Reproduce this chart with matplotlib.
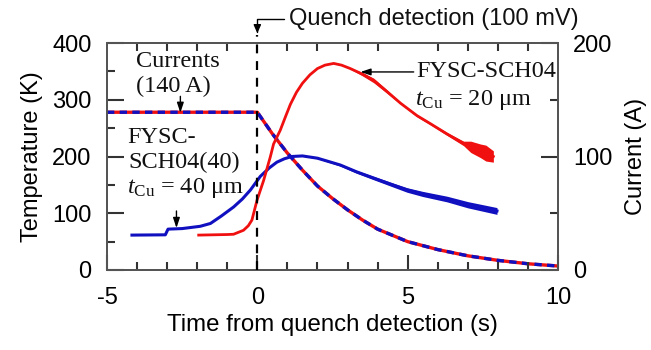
import matplotlib
matplotlib.use("Agg")
import matplotlib.pyplot as plt
import numpy as np

# ---------------- data ----------------
# Temperature, FYSC-SCH04(40), t_Cu = 40 um (blue)
blue_t = [-4.17, -3.06, -2.97, -2.5, -1.9, -1.56, -1.2, -0.79, -0.5, -0.23, 0.1, 0.4, 0.65,
          0.9, 1.15, 1.5, 2.0, 2.76, 3.3, 3.87, 4.5, 4.98, 5.5, 6.31, 7.0, 7.97]
blue_T = [61.5, 62, 72, 73, 77, 82, 95, 111, 125, 141, 165, 180, 190,
          196, 200, 201, 197, 185, 173, 162, 150, 141, 134, 125, 115, 104]
# noise half-width of the blue trace (K)
blue_noise = [0, 0, 0, 0, 0, 0, 0, 0, 0, 0, 0, 0, 0,
              0, 0, 0.5, 1, 2, 2.5, 3, 3.5, 4, 4.5, 5, 5.5, 6]

# Temperature, FYSC-SCH04, t_Cu = 20 um (red)
red_t = [-1.95, -1.0, -0.79, -0.46, -0.3, -0.18, -0.01, 0.21, 0.43, 0.54, 0.76, 0.95,
         1.1, 1.3, 1.5, 1.75, 2.0, 2.25, 2.54, 2.8, 3.09, 3.5, 3.87, 4.3, 4.76, 5.31,
         5.75, 6.3, 6.86, 7.1, 7.42, 7.6, 7.85]
red_T = [61.5, 62.5, 63, 70, 78, 88, 123, 158, 199, 222, 246, 272,
         292, 313, 329, 344, 355, 361, 364, 361, 355, 345, 334, 315, 294, 272,
         258, 240, 223, 217, 210, 206, 200]
red_noise = [0, 0, 0, 0, 0, 0, 0, 0, 0, 0, 0, 0,
             0, 0, 0, 0, 0, 0, 0, 0, 1, 3, 4, 3, 1.5, 2,
             2, 2.5, 4, 10, 12, 14, 10]

# Current (A), both samples (identical)
cur_t = [-5, 0, 0.5, 1.0, 1.5, 2.0, 2.5, 3.0, 3.5, 4.0, 5.0, 6.0, 7.0, 8.0, 9.0, 10.0]
cur_I = [139, 139, 120, 103, 88, 74, 63, 53, 44, 36, 25, 18, 12.5, 8.5, 5.5, 3.5]

xticks = [-5, 0, 5, 10]
yticks_T = [0, 100, 200, 300, 400]
yticks_I = [0, 100, 200]

# ---------------- style ----------------
RED = "#f01010"
BLUE = "#1010c0"
SPINE = "#555555"
TICK = "#333333"
SANS = "Liberation Sans"
SERIF = "Liberation Serif"
plt.rcParams["font.family"] = [SANS, "DejaVu Sans"]
plt.rcParams["axes.unicode_minus"] = False
plt.rcParams["mathtext.fontset"] = "custom"
plt.rcParams["mathtext.rm"] = SERIF
plt.rcParams["mathtext.it"] = SERIF + ":italic"

fig = plt.figure(figsize=(6.51, 3.5), dpi=100)
ax = fig.add_axes([107 / 651, 80 / 350, 451 / 651, 227 / 350])
ax2 = ax.twinx()
ax.set_zorder(1)
ax.patch.set_visible(False)

# temperature traces with noise bands
bt = np.array(blue_t); bT = np.array(blue_T); bn = np.array(blue_noise)
rt = np.array(red_t); rT = np.array(red_T); rn = np.array(red_noise)
ax.fill_between(bt, bT - bn, bT + bn, color=BLUE, lw=0, zorder=2)
ax.plot(bt, bT, color=BLUE, lw=2.2, zorder=3, solid_joinstyle="round")
ax.fill_between(rt, rT - rn, rT + rn, color=RED, lw=0, zorder=2)
ax.plot(rt, rT, color=RED, lw=2.0, zorder=3, solid_joinstyle="round")

# current traces (red underneath, blue dashed on top)
ax2.plot(cur_t, cur_I, color=RED, lw=2.4, zorder=3)
ax2.plot(cur_t, cur_I, color=BLUE, lw=2.4, dashes=(2.2, 1.6), zorder=4)

# quench detection line
ax.plot([0, 0], [0, 414], color="black", lw=1.6, dashes=(4, 3.5), clip_on=False, zorder=5)
ax.annotate("", xy=(0, 417), xytext=(0.9, 442), xycoords="data", textcoords="data",
            annotation_clip=False,
            arrowprops=dict(arrowstyle="-|>,head_length=0.5,head_width=0.22", color="black", lw=1.0,
                            shrinkA=0, shrinkB=0,
                            connectionstyle="angle,angleA=0,angleB=90,rad=0"))
ax.text(1.05, 442, "Quench detection (100 mV)", fontsize=17, va="center", ha="left",
        clip_on=False, color="#111111")

# axes limits/ticks
ax.set_xlim(-5, 10)
ax.set_ylim(0, 400)
ax2.set_ylim(0, 200)
ax.set_xticks(xticks)
ax.set_xticks(np.arange(-5, 11, 1), minor=True)
ax.set_yticks(yticks_T)
ax.set_yticks(np.arange(0, 401, 50), minor=True)
ax2.set_yticks(yticks_I)
ax2.set_yticks(np.arange(0, 201, 50), minor=True)

for a in (ax, ax2):
    for s in a.spines.values():
        s.set_color(SPINE)
        s.set_linewidth(1.4)
ax.xaxis.set_tick_params(which="major", direction="in", length=11, width=1.5, color=TICK,
                         labelsize=17, pad=12, bottom=True, top=False)
ax.xaxis.set_tick_params(which="minor", direction="in", length=5.5, width=1.5, color=TICK,
                         bottom=True, top=True)
ax.yaxis.set_tick_params(which="major", direction="in", length=12, width=1.5, color=TICK,
                         labelsize=17, pad=11, left=True, right=False)
ax.yaxis.set_tick_params(which="minor", direction="in", length=6, width=1.5, color=TICK,
                         left=True, right=False)
ax2.yaxis.set_tick_params(which="major", direction="in", length=12, width=1.5, color=TICK,
                          labelsize=17, pad=11)
ax2.yaxis.set_tick_params(which="minor", direction="in", length=6, width=1.5, color=TICK)

ax.set_xlabel("Time from quench detection (s)", fontsize=17.3, labelpad=4)
ax.set_ylabel("Temperature (K)", fontsize=17, labelpad=7)
ax2.set_ylabel("Current (A)", fontsize=17, labelpad=9)

# annotations (serif)
tkw = dict(fontsize=17.5, family=SERIF, color="#111111", va="center", ha="left")
ax.text(-4.02, 368, "Currents", **tkw)
ax.text(-4.02, 324, "(140 A)", **tkw)
ax.annotate("", xy=(-2.56, 277), xytext=(-2.56, 306),
            arrowprops=dict(arrowstyle="-|>,head_length=0.6,head_width=0.2", color="black", lw=1.0,
                            shrinkA=0, shrinkB=0))
ax.text(-4.33, 234, "FYSC-", **tkw)
ax.text(-4.3, 190, "SCH04(40)", **tkw)
ax.text(-4.33, 144, r"$t_{\mathrm{Cu}}$ = 40 μm", **tkw)
ax.annotate("", xy=(-2.69, 74), xytext=(-2.69, 104),
            arrowprops=dict(arrowstyle="-|>,head_length=0.6,head_width=0.2", color="black", lw=1.0,
                            shrinkA=0, shrinkB=0))
ax.text(5.3, 349, "FYSC-SCH04", **tkw)
ax.text(5.25, 300, r"$t_{\mathrm{Cu}}$ = 20 μm", **tkw)
ax.annotate("", xy=(3.43, 349), xytext=(5.2, 349),
            arrowprops=dict(arrowstyle="-|>,head_length=0.6,head_width=0.2", color="black", lw=1.0,
                            shrinkA=0, shrinkB=0))

fig.savefig("out.png", dpi=100)
